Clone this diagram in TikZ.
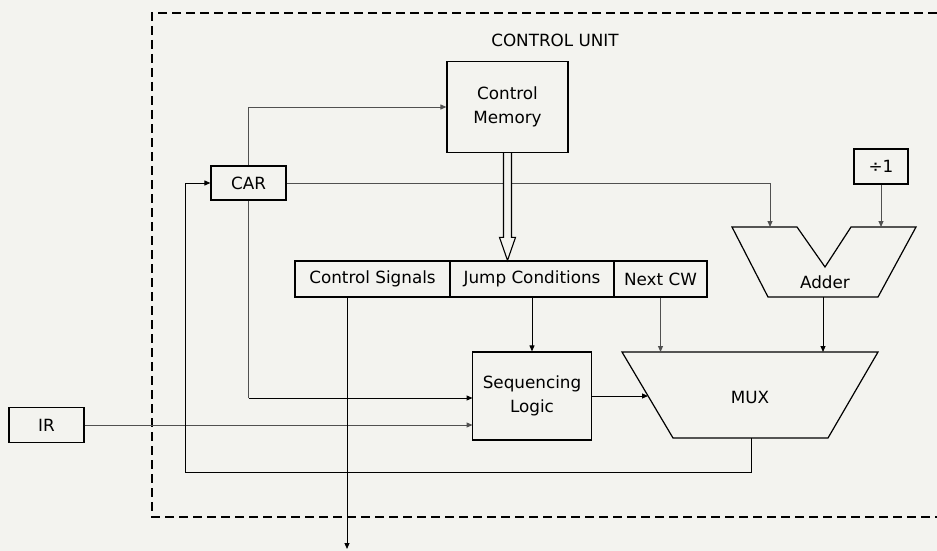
\documentclass[tikz,border=0pt]{standalone}
\usepackage{fontspec}
\setmainfont{DejaVu Sans}
\usetikzlibrary{arrows.meta,calc}
\definecolor{paper}{RGB}{243,243,239}
\definecolor{thinline}{RGB}{80,80,80}
\begin{document}
\begin{tikzpicture}[x=1pt,y=-1pt,
  every node/.style={font=\fontsize{16.8}{24}\selectfont, inner sep=0pt},
  blk/.style={draw=black, line width=1.2pt, minimum width=#1, align=center},
  barrow/.style={draw=black, line width=1pt, -{Triangle[length=6pt,width=5pt]}},
  bline/.style={draw=black, line width=1pt},
  garrow/.style={draw=thinline, line width=1pt, -{Triangle[length=6pt,width=5pt]}},
  gline/.style={draw=thinline, line width=1pt},
  unitbox/.style={draw=black, line width=1.3pt, dash pattern=on 9pt off 5pt},
  shapeln/.style={draw=black, line width=1.2pt, line join=miter}]
\fill[paper] (0,0) rectangle (937,551);
\useasboundingbox (0,0) rectangle (937,551);

% control unit boundary (open on the right)
\draw[unitbox] (937,13) -- (152,13) -- (152,517) -- (937,517);
\node (title) at (555,40) {CONTROL UNIT};

% blocks
\node[blk=121pt, minimum height=91pt] (cm) at (507.5,107) {Control\\Memory};
\node[blk=75pt, minimum height=34pt] (car) at (248.5,183) {CAR};
\node[blk=155pt, minimum height=36pt] (cs) at (372.5,279) {Control Signals};
\node[blk=164pt, minimum height=36pt] (jc) at (532,279) {Jump Conditions};
\node[blk=93pt, minimum height=36pt] (nc) at (660.5,279) {Next CW};
\node[blk=119pt, minimum height=88pt] (seq) at (532,396) {Sequencing\\Logic};
\node[blk=75pt, minimum height=35pt] (ir) at (46.5,425) {IR};
\node[blk=54pt, minimum height=35pt] (plus) at (881,166.5) {÷1};

% adder
\draw[shapeln] (732,227) -- (797,227) -- (825,267) -- (851,227) -- (916,227)
  -- (878,297) -- (768,297) -- cycle;
\node (adder) at (825,282) {Adder};
\coordinate (addL) at (770,227);
\coordinate (addR) at (881,227);
\coordinate (addOut) at (823,297);

% mux
\draw[shapeln] (622,352) -- (878,352) -- (828,438) -- (673,438) -- cycle;
\node (mux) at (750,397) {MUX};
\coordinate (muxA) at (823,352);
\coordinate (muxNC) at (660.5,352);
\coordinate (muxIn) at (648,396);
\coordinate (muxOut) at (751,438);

% helper coordinates
\coordinate (carCorner) at (248.5,398);
\coordinate (seqIn1) at (472.5,398);
\coordinate (seqIn2) at (472.5,425);
\coordinate (fb) at (185,472);
\coordinate (csOut) at (347,549);
\coordinate (csTop) at (347,297);

% connectors
\draw[garrow] (car.north) |- (cm.west);
\draw[garrow] (car.east) -| (addL);
\draw[garrow] (plus.south) -- (addR);
\draw[barrow] (addOut) -- (muxA);
\draw[garrow] (nc.south) -- (muxNC);
\draw[barrow] (jc.south) -- (seq.north);
\draw[barrow] (seq.east) -- (muxIn);
\draw[gline] (car.south) -- (carCorner);
\draw[barrow] (carCorner) -- (seqIn1);
\draw[garrow] (ir.east) -- (seqIn2);
\draw[barrow] (muxOut) |- (fb) |- (car.west);
\draw[barrow] (csTop) -- (csOut);

% double (bus) arrow from control memory to the control word register
\coordinate (busTop) at (cm.south);
\coordinate (busTip) at (cm.south |- jc.north);
\draw[line width=1.1pt, line join=miter, fill=paper]
  ($(busTop)+(-4,0)$) -- ($(busTip)+(-4,-23)$) -- ($(busTip)+(-8,-23)$)
  -- (busTip) -- ($(busTip)+(8,-23)$) -- ($(busTip)+(4,-23)$)
  -- ($(busTop)+(4,0)$);
\end{tikzpicture}
\end{document}
